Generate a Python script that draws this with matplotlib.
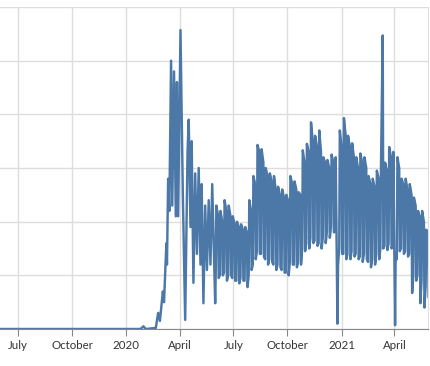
import numpy as np
import pandas as pd
import matplotlib.pyplot as plt

plt.rcParams['font.family'] = ['Lato', 'DejaVu Sans']

# first wave
early_dates = [
    '2019-05-25', '2019-09-01', '2020-01-25', '2020-01-30', '2020-02-03', '2020-02-20',
    '2020-02-24', '2020-02-27', '2020-03-03', '2020-03-05', '2020-03-09', '2020-03-10',
    '2020-03-12', '2020-03-14', '2020-03-17', '2020-03-19', '2020-03-22', '2020-03-25',
    '2020-03-27', '2020-03-29', '2020-04-02', '2020-04-06', '2020-04-10', '2020-04-14',
    '2020-04-16', '2020-04-19', '2020-04-21', '2020-04-24', '2020-04-27', '2020-04-30',
    '2020-05-03', '2020-05-06', '2020-05-08', '2020-05-11', '2020-05-14', '2020-05-17',
    '2020-05-20', '2020-05-23', '2020-05-26', '2020-05-31',
]
early_vals = [
    0.0, 0.0, 0.0, 0.05, 0.0, 0.02,
    0.3, 0.15, 0.7, 0.5, 1.6, 1.2,
    2.8, 2.2, 5.0, 2.3, 4.8, 2.1,
    4.6, 2.1, 5.57, 2.5, 0.17, 3.3,
    3.9, 1.9, 3.5, 0.86, 2.9, 1.4,
    3.0, 1.2, 2.7, 0.48, 2.3, 1.1,
    2.4, 1.2, 2.7, 0.48,
]

# from June 2020 on: one row per week (Mon, Tue, Fri, Sat readings)
week_start = pd.date_range('2020-06-01', '2021-05-24', freq='7D')
mon = [1.1, 1.0, 1.05, 1.0, 0.95, 0.9, 0.95, 0.9, 1.0, 1.2, 1.45, 1.4, 1.3,
       1.3, 1.2, 1.2, 1.1, 1.05, 1.25, 1.2, 1.25, 1.5, 1.6, 1.7, 1.65, 1.6,
       1.7, 1.8, 1.9, 1.85, 1.5, 1.4, 1.4, 1.45, 1.4, 1.35, 1.4, 1.25, 1.3,
       1.4, 1.5, 1.55, 1.6, 1.55, 1.3, 1.5, 1.45, 1.4, 1.0, 1.0, 0.9, 0.8]
tue = [2.3, 2.2, 2.4, 2.3, 2.1, 2.0, 1.95, 1.9, 2.4, 2.85, 3.43, 3.35, 3.0,
       2.9, 2.85, 2.65, 2.6, 2.5, 2.85, 2.75, 2.55, 3.33, 3.45, 3.85, 3.6, 3.7,
       3.2, 3.15, 3.25, 3.2, 3.7, 3.93, 3.6, 3.46, 3.2, 3.27, 3.2, 2.85, 2.8,
       2.95, 3.0, 3.1, 3.39, 3.3, 3.2, 2.8, 2.8, 2.7, 2.45, 2.2, 2.2, 1.85]
fri = [2.1, 2.0, 2.2, 2.1, 1.95, 1.9, 1.85, 1.8, 2.2, 2.7, 3.3, 3.1, 2.85,
       2.75, 2.6, 2.5, 2.45, 2.4, 2.7, 2.6, 2.5, 3.1, 3.3, 3.5, 3.4, 3.3,
       3.1, 3.0, 3.1, 0.1, 3.4, 3.6, 3.4, 3.2, 3.0, 3.1, 3.0, 2.7, 2.65,
       2.8, 5.47, 2.95, 3.2, 0.07, 3.0, 2.7, 2.6, 2.5, 2.3, 2.1, 2.0, 1.8]
sat = [0.95, 1.0, 0.9, 1.0, 0.9, 0.85, 0.9, 0.78, 1.1, 1.3, 1.4, 1.35, 1.2,
       1.25, 1.1, 1.15, 1.05, 1.0, 1.2, 1.15, 1.2, 1.45, 1.5, 1.6, 1.55, 1.5,
       1.6, 1.7, 1.8, 1.2, 1.4, 1.3, 1.3, 1.35, 1.3, 1.25, 1.3, 1.15, 1.2,
       1.3, 1.5, 1.47, 1.5, 1.4, 1.45, 1.4, 1.35, 0.67, 0.9, 0.48, 0.4, 0.6]

tick_dates = ['2019-07-01', '2019-10-01', '2020-01-01', '2020-04-01',
              '2020-07-01', '2020-10-01', '2021-01-01', '2021-04-01']
tick_labels = ['July', 'October', '2020', 'April', 'July', 'October', '2021', 'April']

series = pd.Series(early_vals, index=pd.to_datetime(early_dates))
for offset, vals in zip([0, 1, 4, 5], [mon, tue, fri, sat]):
    series = pd.concat([series, pd.Series(vals, index=week_start + pd.Timedelta(days=offset))])
series = series.sort_index()

fig = plt.figure(figsize=(4.30, 3.66), dpi=100)
ax = fig.add_axes([0.0, 1 - 329 / 366, 428 / 430, 322 / 366])

ax.plot(series.index, series.values, color='#4c78a8', linewidth=1.75)

ax.set_xlim(pd.Timestamp('2019-05-31'), pd.Timestamp('2021-05-28'))
ax.set_ylim(0, 6)
ax.set_yticks(np.arange(0, 7, 1))
ax.set_xticks(pd.to_datetime(tick_dates))
ax.set_xticklabels(tick_labels)

ax.grid(True, color='#dddddd', linewidth=1)
ax.set_axisbelow(True)
ax.tick_params(axis='y', length=0, labelleft=False)
ax.tick_params(axis='x', length=5, color='#888888', labelsize=8.3, labelcolor='#333333', pad=3)

for s in ['left', 'top']:
    ax.spines[s].set_visible(False)
ax.spines['right'].set_color('#dddddd')
ax.spines['bottom'].set_color('#888888')

fig.savefig('out.png', dpi=100)
